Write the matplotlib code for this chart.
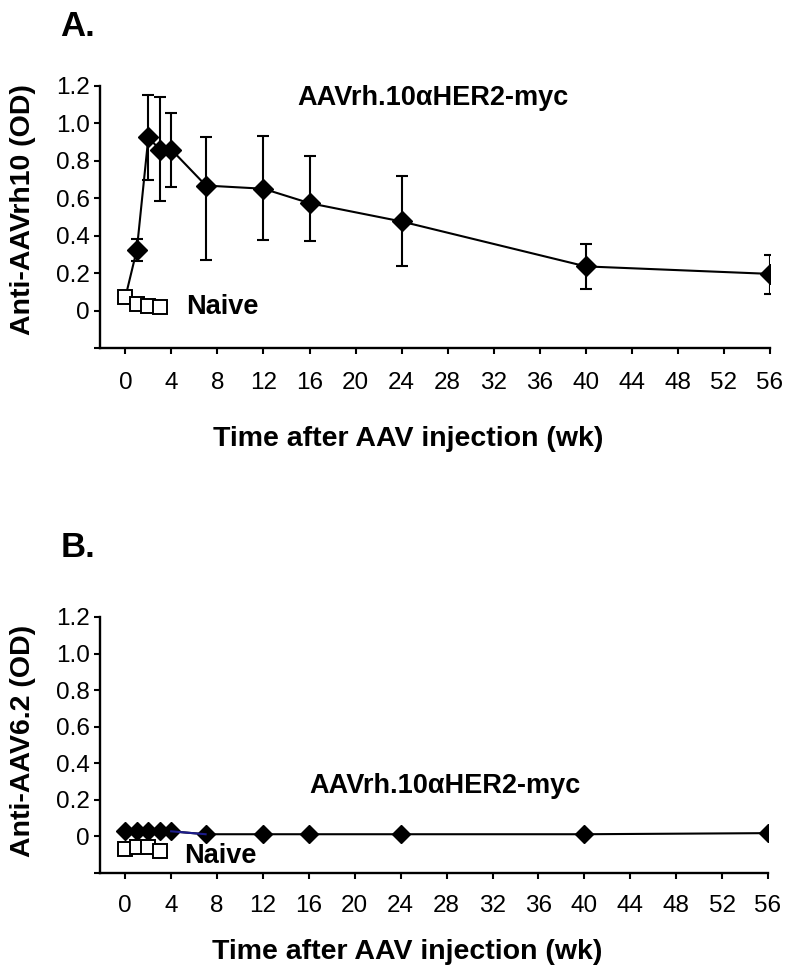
import numpy as np
import matplotlib
matplotlib.use('Agg')
import matplotlib.pyplot as plt

plt.rcParams['font.family'] = ['Liberation Sans', 'DejaVu Sans']

########################################################################################################################
# DATA

weeks = [0, 1, 2, 3, 4, 7, 12, 16, 24, 40, 56]
naive_weeks = [0, 1, 2, 3]

# Panel A: anti-AAVrh10
a_mean = [0.07, 0.325, 0.925, 0.86, 0.86, 0.668, 0.651, 0.574, 0.476, 0.236, 0.196]
a_err_up = [0.0, 0.06, 0.225, 0.28, 0.195, 0.26, 0.282, 0.25, 0.245, 0.12, 0.103]
a_err_lo = [0.0, 0.06, 0.225, 0.275, 0.2, 0.396, 0.276, 0.2, 0.24, 0.12, 0.107]
a_naive = [0.07, 0.035, 0.025, 0.02]

# Panel B: anti-AAV6.2
b_mean = [0.03, 0.028, 0.028, 0.028, 0.028, 0.012, 0.012, 0.012, 0.012, 0.012, 0.018]
b_naive = [-0.068, -0.058, -0.058, -0.078]

y_ticks = [-0.2, 0, 0.2, 0.4, 0.6, 0.8, 1.0, 1.2]
y_tick_labels = ['', '0', '0.2', '0.4', '0.6', '0.8', '1.0', '1.2']
x_ticks = list(range(0, 57, 4))

group_label = 'AAVrh.10\u03b1HER2-myc'
x_title = 'Time after AAV injection (wk)'


########################################################################################################################

def Style_Axis(ax, ylabel, ylab_y, xlab_y, xpad):
    ax.set_xlim(-2.2, 56)
    ax.set_ylim(-0.2, 1.2)
    for s in ['top', 'right']:
        ax.spines[s].set_visible(False)
    for s in ['left', 'bottom']:
        ax.spines[s].set_linewidth(1.7)
    ax.set_yticks(y_ticks)
    ax.set_yticklabels(y_tick_labels)
    ax.set_xticks(x_ticks)
    ax.tick_params(axis='y', length=4, width=1.5, pad=3.5, labelsize=17.5)
    ax.tick_params(axis='x', length=4.5, width=1.5, pad=xpad, labelsize=17.5)
    ax.set_ylabel(ylabel, fontsize=20.5, fontweight='bold', va='center')
    ax.yaxis.set_label_coords(-0.115, ylab_y)
    ax.set_xlabel(x_title, fontsize=20.5, fontweight='bold', va='center')
    ax.xaxis.set_label_coords(0.46, xlab_y)


########################################################################################################################

fig = plt.figure(figsize=(7.95, 9.76), dpi=100)
ax1 = fig.add_axes([100 / 795, 1 - 348 / 976, 670 / 795, 262 / 976])
ax2 = fig.add_axes([100 / 795, 1 - 873 / 976, 668 / 795, 256 / 976])

# Panel A (week-0 diamond sits under the naive square, so its marker is skipped)
ax1.errorbar(weeks, a_mean, yerr=[a_err_lo, a_err_up], color='black', lw=1.5, elinewidth=1.5,
             capsize=4, capthick=1.5, marker='D', ms=10, zorder=3,
             markevery=list(range(1, len(weeks))))
ax1.plot(naive_weeks, a_naive, 's', ms=10.5, mfc='white', mec='black', mew=1.4, zorder=4)
ax1.text(5.3, 0.02, 'Naive', fontsize=19.5, fontweight='bold', va='center', ha='left')
ax1.text(14.9, 1.135, group_label, fontsize=19.5, fontweight='bold', va='center', ha='left')
Style_Axis(ax1, 'Anti-AAVrh10 (OD)', 0.529, -0.347, 12.5)

# Panel B
ax2.plot(weeks, b_mean, color='black', lw=1.5, marker='D', ms=9, zorder=3)
ax2.plot(weeks[4:6], b_mean[4:6], color='#1c1c8c', lw=1.5, zorder=3.5)
ax2.plot(naive_weeks, b_naive, 's', ms=10.5, mfc='white', mec='black', mew=1.4, zorder=4)
ax2.text(5.15, -0.105, 'Naive', fontsize=19.5, fontweight='bold', va='center', ha='left')
ax2.text(16.0, 0.277, group_label, fontsize=19.5, fontweight='bold', va='center', ha='left')
Style_Axis(ax2, 'Anti-AAV6.2 (OD)', 0.516, -0.31, 11.5)

fig.text(60 / 795, 1 - 36 / 976, 'A.', fontsize=25, fontweight='bold', va='baseline', ha='left')
fig.text(61 / 795, 1 - 557 / 976, 'B.', fontsize=25, fontweight='bold', va='baseline', ha='left')

plt.savefig('out.png', dpi=100)
plt.close()
